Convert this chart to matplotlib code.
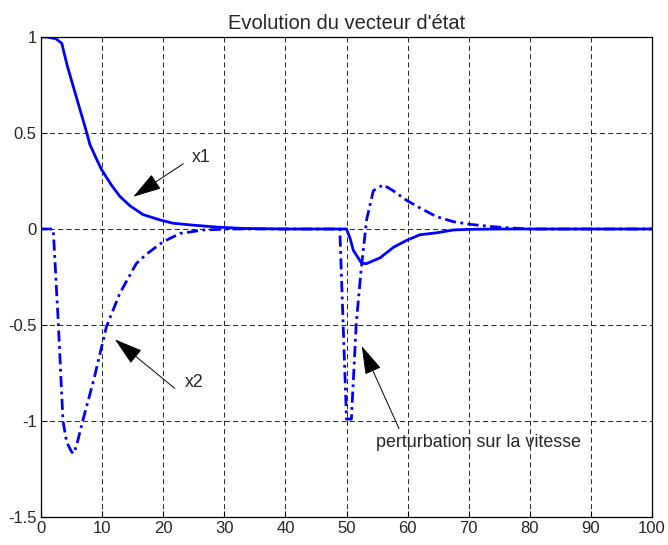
import matplotlib
matplotlib.use("Agg")
import matplotlib.pyplot as plt
from matplotlib.patches import ArrowStyle

plt.rcParams['font.family'] = ['Liberation Sans', 'DejaVu Sans']
TXT = '#262626'

# x1 (solid)
t_x1 = [0, 1, 2.5, 3.4, 4.3, 5.3, 6.4, 7.5, 8.0, 9.0, 9.9, 11.5, 12.9, 14.6, 16.7, 19.5, 21.6, 24.9,
        28.8, 33, 40, 50, 50.6, 51.1, 52.4, 52.9, 53.3, 55.5, 57.7, 59.8, 62, 64.7,
        67.5, 70, 75, 100]
x1 = [1, 1, 0.99, 0.967, 0.85, 0.74, 0.62, 0.5, 0.44, 0.37, 0.31, 0.23, 0.17, 0.12, 0.075, 0.047, 0.03, 0.02,
      0.01, 0.003, 0, 0, -0.05, -0.11, -0.175, -0.18, -0.18, -0.15, -0.095, -0.06, -0.03, -0.02,
      -0.005, -0.002, 0, 0]

# x2 (dash-dot)
t_x2 = [0, 2.0, 2.8, 3.6, 4.2, 5.0, 5.3, 5.8, 6.9, 8.6, 10.7, 12.9, 15.6, 17.3, 20.0, 22.8,
        26.6, 31, 48.9, 50.0, 50.8, 51.6, 52.4, 53.3, 54.4, 56.0, 57.6, 59.8, 62.0, 64.7,
        67.5, 70.3, 74.0, 77, 80, 100]
x2 = [0, 0, -0.47, -1.0, -1.11, -1.16, -1.17, -1.13, -0.99, -0.79, -0.51, -0.335, -0.18, -0.13,
      -0.066, -0.023, -0.005, 0, 0, -0.99, -0.99, -0.49, -0.21, 0.05, 0.20, 0.23, 0.20, 0.15,
      0.11, 0.065, 0.038, 0.024, 0.012, 0.005, 0, 0]

xticks = [0, 10, 20, 30, 40, 50, 60, 70, 80, 90, 100]
yticks = [-1.5, -1, -0.5, 0, 0.5, 1]
yticklabels = ['-1.5', '-1', '-0.5', '0', '0.5', '1']

fig = plt.figure(figsize=(6.68, 5.45), dpi=100)
ax = fig.add_axes([41/668, 1 - 517/545, (652 - 41)/668, (517 - 37)/545])

ax.plot(t_x1, x1, color='#0000ff', lw=2.0, linestyle='-')
ax.plot(t_x2, x2, color='#0000ff', lw=2.0, linestyle=(0, (4, 1.6, 1, 1.6)))

ax.set_xlim(0, 100)
ax.set_ylim(-1.5, 1)
ax.set_xticks(xticks)
ax.set_yticks(yticks)
ax.set_yticklabels(yticklabels)
ax.tick_params(direction='in', labelsize=12, length=4, width=0.8, pad=3, labelcolor=TXT)
ax.grid(True, color='black', linestyle=(0, (6, 4)), lw=0.6)
for s in ax.spines.values():
    s.set_linewidth(0.9)
ax.set_title("Evolution du vecteur d'état", fontsize=14.5, pad=6, color=TXT)

astyle = ArrowStyle('-|>', head_length=0.9, head_width=0.27)
akw = dict(arrowstyle=astyle, color='black', lw=0.7, mutation_scale=20, shrinkA=0, shrinkB=0)
ax.annotate('', xy=(15.1, 0.168), xytext=(23.3, 0.34), arrowprops=akw)
ax.text(24.6, 0.37, 'x1', fontsize=12.8, va='center', ha='left', color=TXT)

ax.annotate('', xy=(12.1, -0.575), xytext=(21.9, -0.83), arrowprops=akw)
ax.text(23.6, -0.80, 'x2', fontsize=12.8, va='center', ha='left', color=TXT)

ax.annotate('', xy=(52.5, -0.61), xytext=(58.6, -1.04), arrowprops=akw)
ax.text(54.8, -1.11, 'perturbation sur la vitesse', fontsize=12.9, va='center', ha='left', color=TXT)

fig.savefig('out.png', dpi=100)
